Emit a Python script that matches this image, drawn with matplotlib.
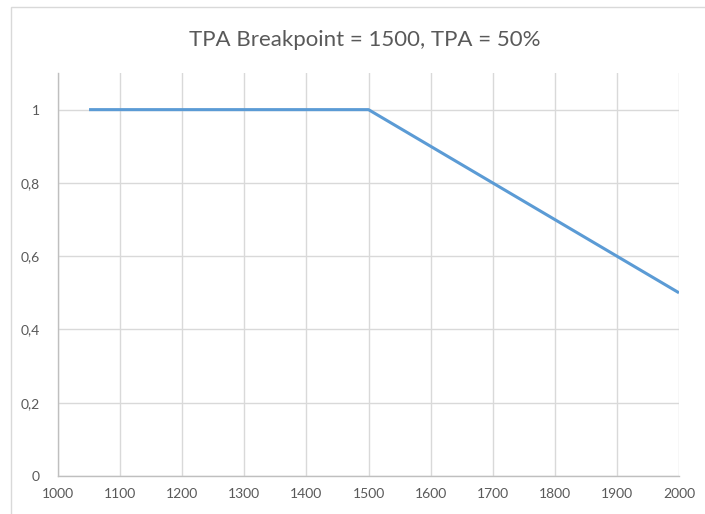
import matplotlib.pyplot as plt
from matplotlib.patches import Rectangle
from matplotlib.ticker import FuncFormatter

# load values at the breakpoints of the curve
loads = [1050, 1500, 1600, 1700, 1800, 1900, 2000]
factor = [1.0, 1.0, 0.9, 0.8, 0.7, 0.6, 0.5]

x_ticks = [1000, 1100, 1200, 1300, 1400, 1500, 1600, 1700, 1800, 1900, 2000]
y_ticks = [0, 0.2, 0.4, 0.6, 0.8, 1.0]

plt.rcParams['font.family'] = ['Lato', 'DejaVu Sans']
text_col = '#595959'
grid_col = '#d9d9d9'

fig = plt.figure(figsize=(7.05, 5.14), dpi=100)
fig.patch.set_facecolor('white')

# chart area border
fig.patches.append(Rectangle((11 / 705, -0.2), 1.2, 1.2 - 7 / 514,
                             transform=fig.transFigure, fill=False,
                             edgecolor=grid_col, linewidth=1.0))

ax = fig.add_axes([58 / 705, 1 - 476 / 514, (679 - 58) / 705, (476 - 73) / 514])
ax.plot(loads, factor, color='#5b9bd5', linewidth=2.2, solid_capstyle='butt')

ax.set_xlim(1000, 2000)
ax.set_ylim(0, 1.1)
ax.set_xticks(x_ticks)
ax.set_yticks(y_ticks)
ax.yaxis.set_major_formatter(FuncFormatter(lambda v, p: ('%g' % v).replace('.', ',')))

ax.grid(True, color=grid_col, linewidth=1.0)
ax.set_axisbelow(True)
for side in ['top', 'right']:
    ax.spines[side].set_visible(False)
for side in ['left', 'bottom']:
    ax.spines[side].set_color('#bfbfbf')
    ax.spines[side].set_linewidth(1.0)

ax.tick_params(axis='both', length=0, labelsize=10, colors=text_col)
ax.tick_params(axis='y', pad=13)
ax.tick_params(axis='x', pad=9)

fig.text(0.518, 1 - 40 / 514, 'TPA Breakpoint = 1500, TPA = 50%',
         ha='center', va='center', fontsize=16, color=text_col)

fig.savefig('out.png', dpi=100)
